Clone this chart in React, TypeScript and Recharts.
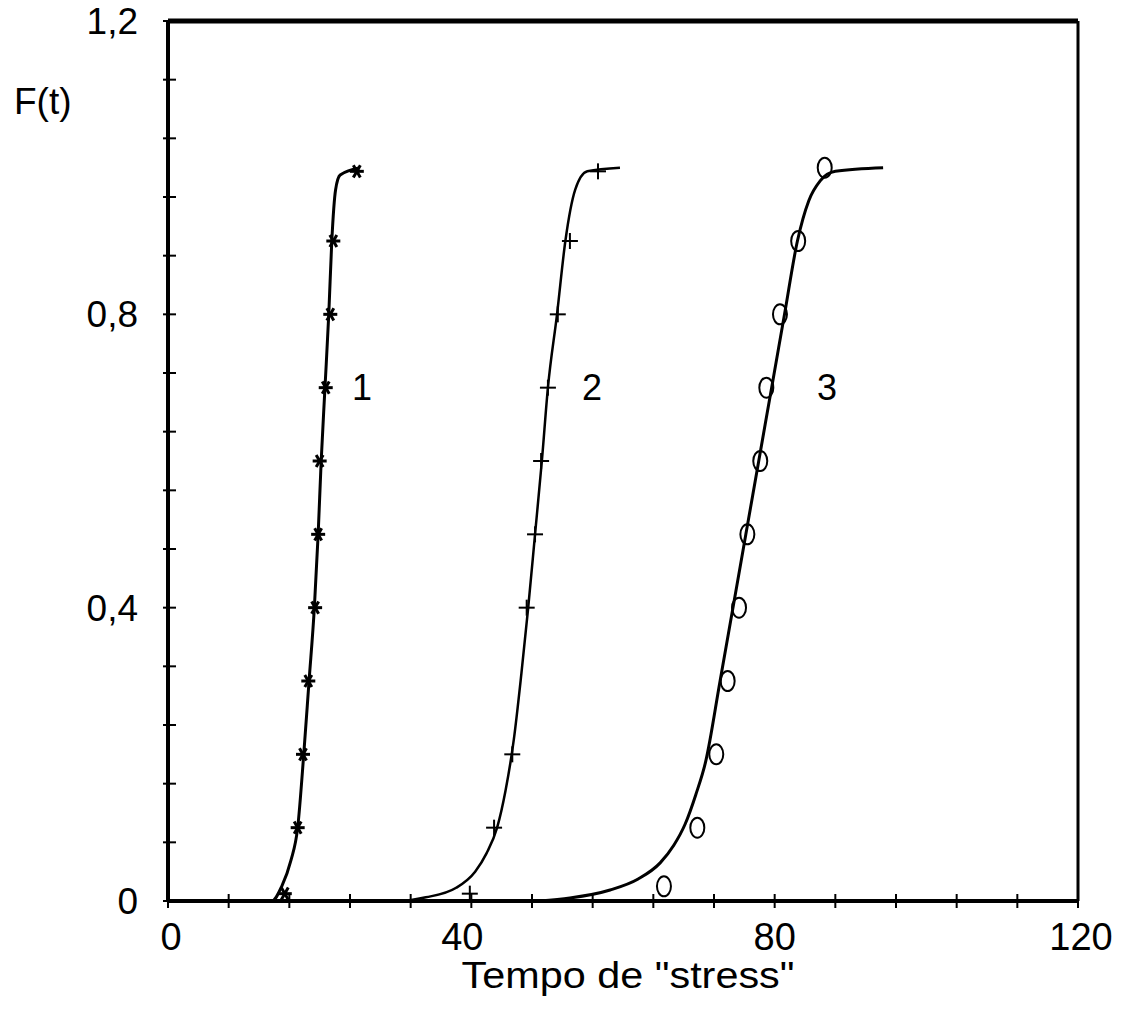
import React from "react";
import {
  ComposedChart,
  Line,
  Scatter,
  XAxis,
  YAxis,
  ReferenceLine,
  ReferenceDot,
} from "recharts";

// fitted curves F(t)
const curve1X = [0, 13.7, 15.0, 16.2, 17.1, 17.9, 18.6, 19.3, 19.8, 20.2, 20.7, 21.2, 21.6, 22.1, 22.7, 25.3];
const curve1Y = [0, 0, 0.02, 0.055, 0.1, 0.2, 0.3, 0.4, 0.5, 0.6, 0.7, 0.8, 0.9, 0.97, 0.99, 1.0];

const curve2X = [24, 30.6, 34, 38, 40.5, 42, 43.4, 44.5, 45.6, 46.6, 47.5, 48.4, 49.3, 50.1, 51.3, 52.4, 53.7, 55.3, 59.6];
const curve2Y = [0, 0, 0.005, 0.018, 0.04, 0.065, 0.1, 0.15, 0.22, 0.31, 0.4, 0.5, 0.6, 0.7, 0.8, 0.9, 0.97, 0.995, 1.0];

const curve3X = [49, 53, 58.3, 62, 64.9, 66.7, 68.2, 69.6, 70.9, 72.8, 74.5, 76.2, 77.9, 79.6, 81.3, 83.0, 84.5, 86, 88, 94.3];
const curve3Y = [0, 0.004, 0.015, 0.03, 0.052, 0.076, 0.105, 0.145, 0.19, 0.3, 0.4, 0.5, 0.6, 0.7, 0.8, 0.9, 0.955, 0.982, 0.995, 1.0];

// measured points
const pts1X = [15.4, 17.1, 17.8, 18.5, 19.4, 19.8, 20.0, 20.8, 21.4, 21.8, 24.9];
const pts1Y = [0.01, 0.1, 0.2, 0.3, 0.4, 0.5, 0.6, 0.7, 0.8, 0.9, 0.995];

const pts2X = [39.8, 43.0, 45.4, 47.3, 48.4, 49.2, 50.1, 51.4, 53.0, 56.7];
const pts2Y = [0.01, 0.1, 0.2, 0.4, 0.5, 0.6, 0.7, 0.8, 0.9, 0.995];

const pts3X = [65.4, 69.8, 72.3, 73.8, 75.3, 76.4, 78.1, 78.9, 80.7, 83.1, 86.6];
const pts3Y = [0.02, 0.1, 0.2, 0.3, 0.4, 0.5, 0.6, 0.7, 0.8, 0.9, 1.0];

const xTicks = [0, 8, 16, 24, 32, 40, 48, 56, 64, 72, 80, 88, 96, 104, 112, 120];
const xLabels = [0, 40, 80, 120];
const yTicks = [0, 0.08, 0.16, 0.24, 0.32, 0.4, 0.48, 0.56, 0.64, 0.72, 0.8, 0.88, 0.96, 1.04, 1.12, 1.2];
const yLabels = [0, 0.4, 0.8, 1.2];

const curveLabels = [
  { name: "1", x: 25.6, y: 0.7 },
  { name: "2", x: 55.9, y: 0.7 },
  { name: "3", x: 86.9, y: 0.7 },
];

const zip = (xs: number[], ys: number[]) => xs.map((x, i) => ({ x, y: ys[i] }));

const FONT = "'Liberation Sans', Arial, sans-serif";

const isLabel = (v: number, list: number[]) => list.some((l) => Math.abs(l - v) < 1e-6);
const fmt = (v: number) => String(v).replace(".", ",");

const XTick = (props: any) => {
  const { x, y, payload } = props;
  const v = payload.value;
  const shift = v === 40 ? -9 : v === 0 ? 3 : v === 120 ? 3 : 0;
  return (
    <g>
      <line x1={x} x2={x} y1={y - 7} y2={y + 7} stroke="#000" strokeWidth={2} />
      {isLabel(v, xLabels) && (
        <text x={x + shift} y={y + 49} textAnchor="middle" fontSize={38} fontFamily={FONT} fill="#000">
          {fmt(v)}
        </text>
      )}
    </g>
  );
};

const YTick = (props: any) => {
  const { x, y, payload } = props;
  const v = payload.value;
  return (
    <g>
      <line x1={x - 5} x2={x + 8} y1={y} y2={y} stroke="#000" strokeWidth={2} />
      {isLabel(v, yLabels) && (
        <text x={x - 30} y={y + 13} textAnchor="end" fontSize={37} fontFamily={FONT} fill="#000">
          {fmt(v)}
        </text>
      )}
    </g>
  );
};

const Star = (props: any) => {
  const { cx, cy } = props;
  const r = 7;
  return (
    <g stroke="#000" strokeWidth={3}>
      <line x1={cx - r} x2={cx + r} y1={cy} y2={cy} />
      <line x1={cx - r * 0.5} x2={cx + r * 0.5} y1={cy - r * 0.87} y2={cy + r * 0.87} />
      <line x1={cx + r * 0.5} x2={cx - r * 0.5} y1={cy - r * 0.87} y2={cy + r * 0.87} />
    </g>
  );
};

const Plus = (props: any) => {
  const { cx, cy } = props;
  return (
    <g stroke="#000" strokeWidth={2}>
      <line x1={cx - 8} x2={cx + 8} y1={cy} y2={cy} />
      <line x1={cx} x2={cx} y1={cy - 8} y2={cy + 8} />
    </g>
  );
};

const Ring = (props: any) => {
  const { cx, cy } = props;
  return <ellipse cx={cx} cy={cy} rx={7} ry={10} fill="none" stroke="#000" strokeWidth={2} />;
};

export default function App() {
  return (
    <div style={{ position: "absolute", left: 0, top: 0, width: 1126, height: 1009, background: "#fff" }}>
      <ComposedChart width={1126} height={1009} margin={{ top: 21, right: 48, bottom: 0, left: 0 }}>
        <XAxis
          type="number"
          dataKey="x"
          domain={[0, 120]}
          ticks={xTicks}
          interval={0}
          height={108}
          tickSize={0}
          tickMargin={0}
          tickLine={false}
          axisLine={{ stroke: "#000", strokeWidth: 4 }}
          tick={<XTick />}
          allowDataOverflow
          label={{
            content: () => (
              <text
                x={628}
                y={988}
                textAnchor="middle"
                fontSize={37}
                fontFamily={FONT}
                fill="#000"
                textLength={333}
                lengthAdjust="spacingAndGlyphs"
              >
                Tempo de "stress"
              </text>
            ),
          }}
        />
        <YAxis
          type="number"
          dataKey="y"
          domain={[0, 1.2]}
          ticks={yTicks}
          interval={0}
          width={168}
          tickSize={0}
          tickMargin={0}
          tickLine={false}
          axisLine={{ stroke: "#000", strokeWidth: 4 }}
          tick={<YTick />}
          allowDataOverflow
          label={{
            content: () => (
              <text x={14} y={114} fontSize={37} fontFamily={FONT} fill="#000">
                F(t)
              </text>
            ),
          }}
        />
        <ReferenceLine y={1.2} stroke="#000" strokeWidth={5} />
        <ReferenceLine x={120} stroke="#000" strokeWidth={3} />

        <Line data={zip(curve1X, curve1Y)} dataKey="y" type="monotone" stroke="#000" strokeWidth={3} dot={false} isAnimationActive={false} />
        <Line data={zip(curve2X, curve2Y)} dataKey="y" type="monotone" stroke="#000" strokeWidth={2.5} dot={false} isAnimationActive={false} />
        <Line data={zip(curve3X, curve3Y)} dataKey="y" type="monotone" stroke="#000" strokeWidth={3} dot={false} isAnimationActive={false} />

        <Scatter data={zip(pts1X, pts1Y)} dataKey="y" shape={<Star />} isAnimationActive={false} />
        <Scatter data={zip(pts2X, pts2Y)} dataKey="y" shape={<Plus />} isAnimationActive={false} />
        <Scatter data={zip(pts3X, pts3Y)} dataKey="y" shape={<Ring />} isAnimationActive={false} />

        {curveLabels.map((c) => (
          <ReferenceDot
            key={c.name}
            x={c.x}
            y={c.y}
            r={0}
            stroke="none"
            fill="none"
            label={{ value: c.name, position: "center", fontSize: 36, fontFamily: FONT, fill: "#000" }}
          />
        ))}
      </ComposedChart>
    </div>
  );
}
